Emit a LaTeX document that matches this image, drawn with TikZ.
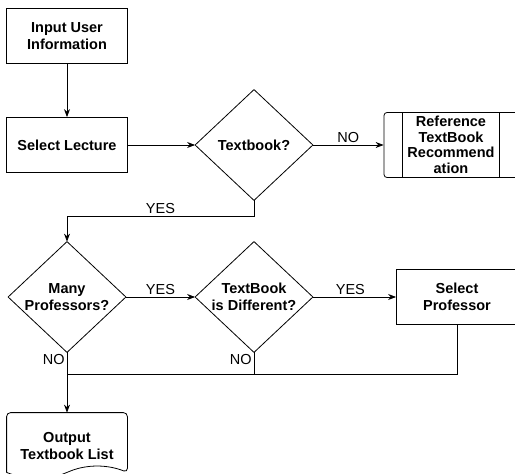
\documentclass[tikz,border=0pt]{standalone}
\usepackage{fontspec}
\setmainfont{Liberation Sans}
\usetikzlibrary{arrows.meta}
\begin{document}
\begin{tikzpicture}[x=1pt, y=-1pt, line width=0.8pt, >={Stealth[length=8pt,width=6pt]}
	,every node/.style={font=\bfseries\fontsize{14.5}{16.5}\selectfont, align=center, inner sep=0pt}
	,box/.style={draw, minimum width=121, minimum height=55}
	,decide/.style={minimum width=117, minimum height=110}
	,subproc/.style={draw, rounded corners=3pt, minimum width=134, minimum height=65, font=\bfseries\fontsize{14.5}{15.5}\selectfont}
	,doc/.style={minimum width=120, minimum height=66}
	,lbl/.style={font=\fontsize{14.5}{16.5}\selectfont, inner sep=2pt}]
\useasboundingbox (0,0) rectangle (515,474);
\node[box](1) at(67,36){Input User\\Information};
\node[box](2) at(67,145){Select Lecture};
\node[decide](3) at(254,145){Textbook?};
\node[subproc](4) at(451,145){Reference\\TextBook\\Recommend\\ation};
%
\node[decide](5) at(67,297){Many\\Professors?};
\node[decide](6) at(254,297){TextBook\\is Different?};
\node[box](7) at(457,297){Select\\Professor};
%
\node[doc](8) at(67,446){Output\\Textbook List};
\foreach \k in {3,5,6}{
\draw (\k.north) -- (\k.east) -- (\k.south) -- (\k.west) -- cycle;
}
\draw ([xshift=19pt]4.north west) -- ([xshift=19pt]4.south west);
\draw ([xshift=-19pt]4.north east) -- ([xshift=-19pt]4.south east);
\draw[rounded corners=4pt] ([yshift=7pt]8.south west) -- (8.north west) -- (8.north east) -- ([yshift=7pt]8.south east)
	.. controls +(-20,-8) and +(20,-8) .. ([yshift=7pt]8.south)
	.. controls +(-20,8) and +(20,8) .. ([yshift=7pt]8.south west);
\foreach \p/\q in {%
	1/2%
	,2/3.west%
}{
\draw[->] (\p) -- (\q);
}
\draw[->] (3.east) -- (4) node[lbl, midway, above]{NO};
\draw[->] (3.south) -- ++(0,16) -| (5.north) node[lbl, pos=0.25, above]{YES};
\draw[->] (5.east) -- (6.west) node[lbl, midway, above]{YES};
\draw[->] (6.east) -- (7) node[lbl, pos=0.45, above]{YES};
\coordinate (j) at (67,374);
\draw (7.south) |- (j);
\draw (6.south) -- (6.south |- j) node[lbl, pos=0, anchor=north east]{NO};
\draw[->] (5.south) -- (8.north) node[lbl, pos=0, anchor=north east]{NO};
\end{tikzpicture}
\end{document}
